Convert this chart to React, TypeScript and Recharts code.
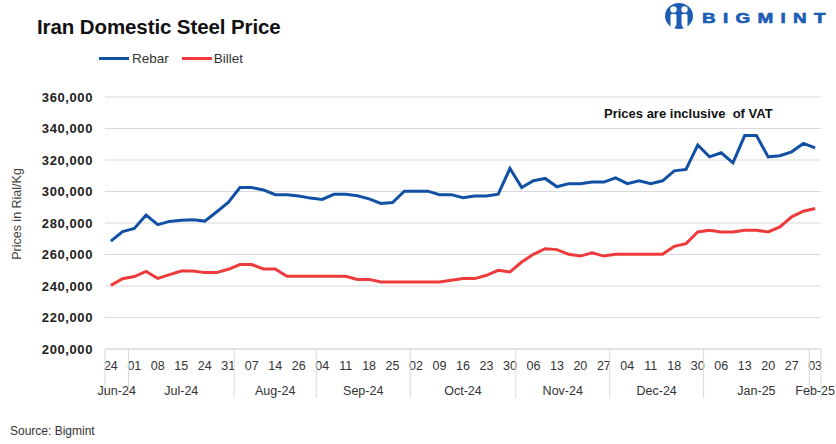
import React from 'react';
import { LineChart, Line, XAxis, YAxis, CartesianGrid } from 'recharts';

const dates = [
  '2024-06-24', '2024-06-27',
  '2024-07-01', '2024-07-04', '2024-07-08', '2024-07-11', '2024-07-15', '2024-07-20', '2024-07-24', '2024-07-27', '2024-07-31',
  '2024-08-03', '2024-08-07', '2024-08-10', '2024-08-14', '2024-08-21', '2024-08-26', '2024-08-28',
  '2024-09-04', '2024-09-07', '2024-09-11', '2024-09-14', '2024-09-18', '2024-09-21', '2024-09-25', '2024-09-28',
  '2024-10-02', '2024-10-05', '2024-10-09', '2024-10-12', '2024-10-16', '2024-10-19', '2024-10-23', '2024-10-26', '2024-10-30',
  '2024-11-02', '2024-11-06', '2024-11-09', '2024-11-13', '2024-11-16', '2024-11-20', '2024-11-23', '2024-11-27',
  '2024-12-01', '2024-12-04', '2024-12-07', '2024-12-11', '2024-12-14', '2024-12-18', '2024-12-25', '2024-12-30',
  '2025-01-01', '2025-01-06', '2025-01-08', '2025-01-13', '2025-01-15', '2025-01-20', '2025-01-22', '2025-01-27', '2025-01-29',
  '2025-02-03',
];

const rebar = [
  268500, 274500, 276500, 285000, 279000, 281000, 281800, 282000, 281200, 287000, 293000,
  302500, 302500, 301000, 298000, 298000, 297200, 295800,
  295000, 298200, 298200, 297300, 295300, 292400, 293000, 300200,
  300200, 300200, 298000, 298000, 296000, 297200, 297200, 298300, 314600,
  302500, 306800, 308300, 303000, 305000, 305000, 306000, 306000,
  308700, 305000, 306800, 305000, 306800, 313100, 314000, 329500,
  322000, 324600, 318200, 335500, 335500, 322000, 322700, 325200, 330500,
  327700,
];

const billet = [
  240400, 244600, 246000, 249300, 244800, 247200, 249500, 249500, 248500, 248500, 250600,
  253600, 253600, 250800, 250800, 246200, 246200, 246200,
  246200, 246200, 246200, 244200, 244200, 242600, 242600, 242600,
  242600, 242600, 242600, 243600, 244700, 244700, 246800, 250000, 248900,
  255200, 260100, 263700, 263100, 260100, 259000, 261000, 259000,
  260100, 260100, 260100, 260100, 260100, 265200, 266900, 274300,
  275400, 274300, 274300, 275400, 275400, 274300, 277500, 283900, 287500,
  289200,
];

const yTicks = [200000, 220000, 240000, 260000, 280000, 300000, 320000, 340000, 360000];
const monthNames = ['Jan', 'Feb', 'Mar', 'Apr', 'May', 'Jun', 'Jul', 'Aug', 'Sep', 'Oct', 'Nov', 'Dec'];

const data = dates.map((d, i) => ({ date: d, rebar: rebar[i], billet: billet[i] }));

const W = 836;
const H = 444;
const M = { top: 97, right: 15, left: 35, bottom: 45 };
const Y_W = 70;
const PLOT_W = W - M.left - M.right - Y_W;
const BW = PLOT_W / dates.length;

const FONT = '"Liberation Sans", Arial, sans-serif';
const BLUE = '#1150A5';
const RED = '#EE3A3A';
const GRID = '#D9D9D9';
const LOGO = '#1B5DB5';

const monthKey = (d: string) => d.slice(0, 7);
const monthLabel = (d: string) => `${monthNames[parseInt(d.slice(5, 7), 10) - 1]}-${d.slice(2, 4)}`;

const XTick = (props: any) => {
  const { x, y, payload } = props;
  const i = payload.index;
  const d = dates[i];
  const els: any[] = [];
  if (i % 2 === 0) {
    els.push(
      <text key="d" x={x} y={y + 21} textAnchor="middle" fontSize={12.5} fill="#333" fontFamily={FONT}>
        {d.slice(8, 10)}
      </text>
    );
  }
  const isFirst = i === 0 || monthKey(dates[i - 1]) !== monthKey(d);
  if (isFirst) {
    let n = 0;
    while (i + n < dates.length && monthKey(dates[i + n]) === monthKey(d)) n++;
    const cx = x + ((n - 1) / 2) * BW;
    els.push(<line key="s" x1={x - BW / 2} x2={x - BW / 2} y1={y} y2={y + 49} stroke={GRID} strokeWidth={1} />);
    els.push(
      <text key="m" x={cx} y={y + 46} textAnchor="middle" fontSize={12.5} fill="#333" fontFamily={FONT}>
        {monthLabel(d)}
      </text>
    );
  }
  if (i === dates.length - 1) {
    els.push(<line key="e" x1={x + BW / 2} x2={x + BW / 2} y1={y} y2={y + 49} stroke={GRID} strokeWidth={1} />);
  }
  return <g>{els}</g>;
};

export default function App() {
  return (
    <div style={{ position: 'absolute', left: 0, top: 0, width: W, height: H, background: '#fff', fontFamily: FONT, overflow: 'hidden' }}>
      <LineChart width={W} height={H} data={data} margin={M}>
        <CartesianGrid horizontal vertical={false} stroke={GRID} strokeWidth={1} />
        <XAxis
          dataKey="date"
          interval={0}
          tick={<XTick />}
          tickLine={false}
          tickSize={0}
          tickMargin={0}
          axisLine={{ stroke: GRID }}
          height={50}
          padding={{ left: BW / 2, right: BW / 2 }}
        />
        <YAxis
          domain={[200000, 360000]}
          ticks={yTicks}
          interval={0}
          width={Y_W}
          axisLine={false}
          tickLine={false}
          tickSize={0}
          tickMargin={12}
          tick={{ fontSize: 13, fontWeight: 700, fill: '#222', fontFamily: FONT, letterSpacing: 0.6 }}
          tickFormatter={(v: number) => v.toLocaleString('en-US')}
        />
        <Line type="linear" dataKey="billet" stroke={RED} strokeWidth={3} dot={false} isAnimationActive={false} />
        <Line type="linear" dataKey="rebar" stroke={BLUE} strokeWidth={3} dot={false} isAnimationActive={false} />
      </LineChart>

      <div style={{ position: 'absolute', left: 37, top: 15, fontSize: 20.5, fontWeight: 700, color: '#111', letterSpacing: -0.1 }}>
        Iran Domestic Steel Price
      </div>

      <div style={{ position: 'absolute', left: 99, top: 51, display: 'flex', alignItems: 'center', fontSize: 13.5, color: '#333' }}>
        <span style={{ display: 'inline-block', width: 30, height: 3, background: BLUE, marginRight: 3 }} />
        <span>Rebar</span>
        <span style={{ display: 'inline-block', width: 30, height: 3, background: RED, marginLeft: 13, marginRight: 2 }} />
        <span>Billet</span>
      </div>

      <div style={{ position: 'absolute', left: 604, top: 106, fontSize: 13, fontWeight: 700, color: '#111', whiteSpace: 'pre' }}>
        {'Prices are inclusive  of VAT'}
      </div>

      <div
        style={{
          position: 'absolute',
          left: 17,
          top: 214,
          transform: 'translate(-50%, -50%) rotate(-90deg)',
          fontSize: 12.5,
          color: '#444',
          whiteSpace: 'nowrap',
        }}
      >
        Prices in Rial/Kg
      </div>

      <div style={{ position: 'absolute', left: 10, top: 424, fontSize: 12, color: '#333' }}>Source: Bigmint</div>

      <svg style={{ position: 'absolute', left: 663, top: 1 }} width={173} height={30}>
        <ellipse cx={16} cy={15} rx={14} ry={13} fill={LOGO} />
        <circle cx={10.5} cy={8.5} r={3.2} fill="#fff" />
        <circle cx={21.5} cy={8.5} r={3.2} fill="#fff" />
        <rect x={7.5} y={13} width={6} height={14} rx={1.5} fill="#fff" />
        <rect x={18.5} y={13} width={6} height={14} rx={1.5} fill="#fff" />
        <path d="M11.5 27 L16 20 L20.5 27 Z" fill={LOGO} />
        <g transform="translate(39 21.5) scale(1.35 1)">
          <text x={0} y={0} fontSize={14} fontWeight={700} fill={LOGO} stroke={LOGO} strokeWidth={0.6} letterSpacing={5.4} fontFamily={FONT}>
            BIGMINT
          </text>
        </g>
      </svg>
    </div>
  );
}
